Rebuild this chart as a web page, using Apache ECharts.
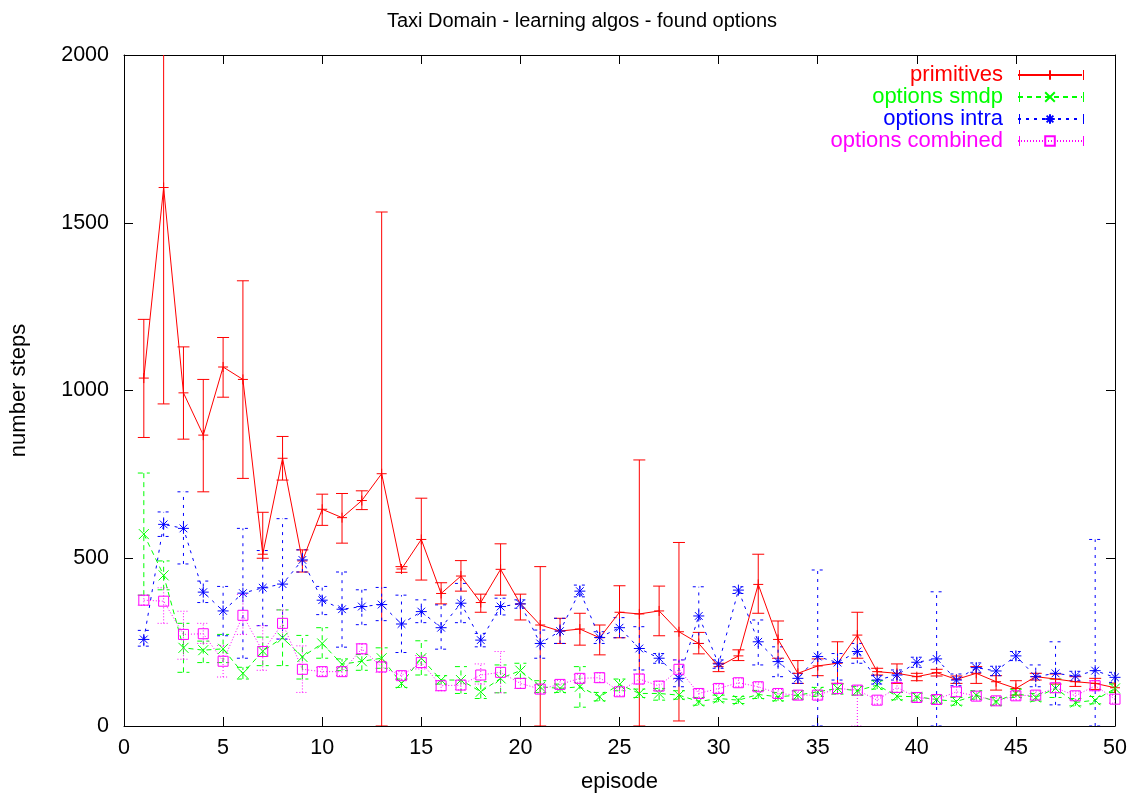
<!DOCTYPE html>
<html>
<head>
<meta charset="utf-8">
<script src="https://cdn.jsdelivr.net/npm/echarts@6/dist/echarts.min.js"></script>
<style>html,body{margin:0;padding:0;background:#fff}#c{width:1136px;height:799px}</style>
</head>
<body>
<div id="c"></div>
<script>
// ---- data (episode 1..50) ----
const episodes = Array.from({length: 50}, (_, i) => i + 1);
const xTicks = [0, 5, 10, 15, 20, 25, 30, 35, 40, 45, 50];
const yTicks = [0, 500, 1000, 1500, 2000];

const seriesNames = ['primitives', 'options smdp', 'options intra', 'options combined'];

const primMean = [1037,1605,993,867,1070,1033,512,798,492,646,621,672,752,468,556,395,447,368,467,364,301,283,289,263,339,334,343,281,246,177,209,422,258,157,179,187,271,162,157,147,159,139,157,132,112,147,140,132,127,114];
const primLo   = [860,960,855,698,980,738,500,733,459,598,545,645,0,458,435,364,402,339,390,316,0,246,241,212,263,0,269,15,215,162,195,336,202,127,150,127,202,152,127,135,149,127,127,107,92,137,125,118,109,100];
const primHi   = [1212,2100,1130,1033,1158,1327,637,863,525,691,693,701,1532,475,679,427,493,393,543,393,475,321,336,301,418,793,417,547,279,187,227,512,313,195,200,251,339,172,185,157,169,149,177,150,135,157,155,147,142,128];

const smdpMean = [572,449,233,226,230,157,223,263,206,246,184,193,202,127,202,137,137,102,142,165,117,112,117,87,124,97,97,92,73,82,77,94,87,92,102,112,105,122,89,87,79,73,92,73,97,85,112,70,77,112];
const smdpLo   = [390,406,160,189,189,140,180,180,140,202,165,166,172,115,152,125,97,82,99,142,100,100,56,75,105,85,77,80,62,72,67,82,75,80,88,95,92,110,78,75,68,62,80,62,85,74,85,60,66,100];
const smdpHi   = [754,492,306,253,273,175,265,346,270,293,200,213,233,140,254,150,177,132,182,187,135,125,177,100,140,110,112,105,85,92,88,106,100,105,115,125,118,135,100,98,90,85,105,85,110,97,140,82,88,125];

const intraMean = [258,601,589,399,343,396,412,423,495,375,348,356,362,304,341,293,366,256,356,364,246,283,402,264,293,231,202,142,328,185,405,251,192,142,207,189,222,137,152,190,200,137,174,164,209,147,157,149,165,145];
const intraLo   = [238,565,483,368,269,202,299,259,459,332,235,302,314,219,308,229,308,236,331,351,202,246,385,246,263,167,187,117,246,172,395,182,147,127,0,137,187,125,137,175,0,120,160,150,195,117,63,135,0,130];
const intraHi   = [285,638,698,432,416,589,523,618,525,416,459,406,413,390,376,361,425,276,381,376,286,321,420,281,323,296,216,197,415,197,415,316,236,157,465,216,246,150,167,205,400,155,188,178,222,182,251,163,556,160];

const combMean = [375,372,273,275,193,330,222,306,169,162,162,230,176,150,189,120,122,152,160,127,110,124,142,144,102,140,119,169,97,112,129,117,97,92,92,112,107,77,115,85,79,102,89,75,90,92,114,90,120,80];
const combLo   = [360,306,199,246,146,273,166,260,100,150,150,215,160,138,170,105,108,125,99,112,98,112,130,130,90,125,105,140,85,100,117,105,85,80,80,95,0,65,100,72,67,88,77,63,78,80,100,78,105,68];
const combHi   = [390,412,342,306,240,392,299,346,239,175,175,245,192,162,210,135,136,185,222,142,122,136,154,158,114,155,133,197,109,124,141,129,109,104,104,128,120,89,130,98,91,116,101,87,102,104,128,102,135,92];

// ---- styles ----
const FONT = 'Liberation Sans, Arial, Helvetica, sans-serif';
const colors = ['#ff0000', '#00ff00', '#0000ff', '#ff00ff'];
const dashes = ['solid', [5, 4], [3, 5], [1, 2]];
const symbols = [
  'path://M0,5L10,5M5,0L5,10',
  'path://M0,0L10,10M0,10L10,0',
  'path://M5,0L5,10M0,5L10,5M1.5,1.5L8.5,8.5M1.5,8.5L8.5,1.5',
  'path://M0,0L10,0L10,10L0,10Z'
];
const symSizes = [10, 10, 11, 10];
const means = [primMean, smdpMean, intraMean, combMean];
const los = [primLo, smdpLo, intraLo, combLo];
const his = [primHi, smdpHi, intraHi, combHi];

const chart = echarts.init(document.getElementById('c'), null, {renderer: 'canvas'});

function errRender(color, dash) {
  return function (params, api) {
    const x = api.value(0);
    const p1 = api.coord([x, api.value(1)]);
    const p2 = api.coord([x, api.value(2)]);
    const w = 6;
    const st = {stroke: color, lineWidth: 1, lineDash: dash === 'solid' ? null : dash};
    return {
      type: 'group',
      children: [
        {type: 'line', shape: {x1: p1[0], y1: p1[1], x2: p2[0], y2: p2[1]}, style: st},
        {type: 'line', shape: {x1: p1[0] - w, y1: p1[1], x2: p1[0] + w, y2: p1[1]}, style: st},
        {type: 'line', shape: {x1: p2[0] - w, y1: p2[1], x2: p2[0] + w, y2: p2[1]}, style: st}
      ]
    };
  };
}

const series = [];
for (let s = 0; s < 4; s++) {
  series.push({
    type: 'custom',
    name: seriesNames[s] + ' (error)',
    renderItem: errRender(colors[s], dashes[s]),
    data: episodes.map((e, i) => [e, los[s][i], his[s][i]]),
    encode: {x: 0, y: [1, 2]},
    clip: true,
    silent: true,
    z: 2
  });
}
for (let s = 0; s < 4; s++) {
  series.push({
    type: 'line',
    name: seriesNames[s],
    data: episodes.map((e, i) => [e, means[s][i]]),
    symbol: symbols[s],
    symbolSize: symSizes[s],
    showAllSymbol: true,
    clip: true,
    lineStyle: {color: colors[s], width: 1, type: dashes[s]},
    itemStyle: {color: 'rgba(0,0,0,0)', borderColor: colors[s], borderWidth: 1},
    emphasis: {disabled: true},
    animation: false,
    z: 3
  });
}

// error-bar end caps on legend samples (decoration only)
const LEG_TOP = 64, ROW = 22, LEG_RIGHT = 53, ICON_W = 64;
const capX = [1136 - LEG_RIGHT - ICON_W, 1136 - LEG_RIGHT];
const legendCaps = [];
for (let s = 0; s < 4; s++) {
  const cy = LEG_TOP + ROW / 2 + s * ROW;
  capX.forEach(x => legendCaps.push({
    type: 'line', silent: true, z: 10,
    shape: {x1: x + 0.5, y1: cy - 5, x2: x + 0.5, y2: cy + 5},
    style: {stroke: colors[s], lineWidth: 1}
  }));
}

const axisCommon = {
  axisLine: {show: true, onZero: false, lineStyle: {color: '#000', width: 1}},
  axisTick: {show: true, inside: true, length: 9, lineStyle: {color: '#000'}},
  splitLine: {show: false}
};

chart.setOption({
  animation: false,
  backgroundColor: '#fff',
  title: {
    text: 'Taxi Domain - learning algos - found options',
    left: 577, top: 6, textAlign: 'center',
    textStyle: {fontFamily: FONT, fontSize: 20, fontWeight: 'normal', color: '#000'}
  },
  legend: {
    orient: 'vertical',
    right: LEG_RIGHT, top: LEG_TOP,
    padding: 0,
    align: 'right',
    itemWidth: ICON_W, itemHeight: 12, itemGap: 0,
    selectedMode: false,
    textStyle: {fontFamily: FONT, fontSize: 22, padding: [0, 10, 0, 0]},
    data: seriesNames.map((n, i) => ({name: n, textStyle: {color: colors[i]}}))
  },
  graphic: legendCaps,
  grid: {left: 123, right: 21, top: 55, bottom: 73},
  xAxis: [
    Object.assign({
      type: 'value', min: 0, max: 50, interval: 5, position: 'bottom',
      name: 'episode', nameLocation: 'middle', nameGap: 45,
      nameTextStyle: {fontFamily: FONT, fontSize: 22, color: '#000'},
      axisLabel: {fontFamily: FONT, fontSize: 21.5, color: '#000', margin: 11,
        formatter: v => xTicks.includes(v) ? String(v) : ''}
    }, axisCommon),
    Object.assign({
      type: 'value', min: 0, max: 50, interval: 5, position: 'top',
      axisLabel: {show: false}
    }, axisCommon)
  ],
  yAxis: [
    Object.assign({
      type: 'value', min: 0, max: 2000, interval: 500, position: 'left',
      name: 'number steps', nameLocation: 'middle', nameGap: 94, nameRotate: 90,
      nameTextStyle: {fontFamily: FONT, fontSize: 22, color: '#000'},
      axisLabel: {fontFamily: FONT, fontSize: 21.5, color: '#000', margin: 15,
        formatter: v => yTicks.includes(v) ? String(v) : ''}
    }, axisCommon),
    Object.assign({
      type: 'value', min: 0, max: 2000, interval: 500, position: 'right',
      axisLabel: {show: false}
    }, axisCommon)
  ],
  series: series
});
</script>
</body>
</html>
